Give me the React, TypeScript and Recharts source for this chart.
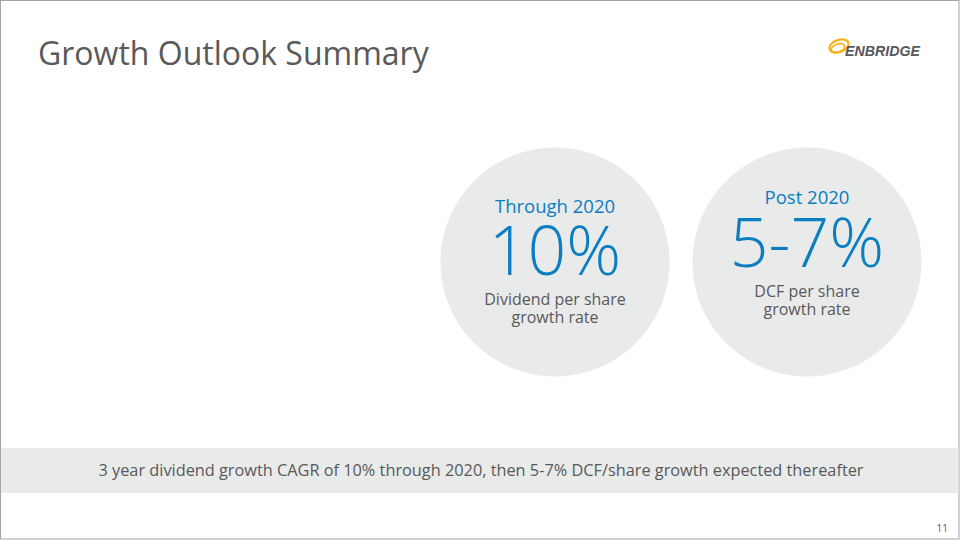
import React from 'react';
import { PieChart, Pie, Cell, Customized } from 'recharts';

const slideTitle = 'Growth Outlook Summary';
const circleTitles = ['Through 2020', 'Post 2020'];
const circleValues = ['10%', '5-7%'];
const circleDescriptions = [
  ['Dividend per share', 'growth rate'],
  ['DCF per share', 'growth rate'],
];
const circleWeights = [1, 1];
const footerText = '3 year dividend growth CAGR of 10% through 2020, then 5-7% DCF/share growth expected thereafter';
const pageNumber = '11';
const logoText = 'ENBRIDGE';

const W = 960;
const H = 540;
const BLUE = '#0b7dc1';
const GREY_TEXT = '#595959';
const CIRCLE_FILL = '#e9eaea';
const FONT = '"Open Sans", "Noto Sans", sans-serif';

const circleLayout = [
  { cx: 555, cy: 262, titleY: 213, valueY: 275, descY: [305, 323] },
  { cx: 807, cy: 262, titleY: 204, valueY: 267, descY: [297, 315] },
];

const Overlay = () => (
  <g>
    {/* slide border */}
    <rect x={0.5} y={0.5} width={958.5} height={538.5} fill="none" stroke="#a3a3a3" strokeWidth={1} />
    {/* title */}
    <text x={38} y={65} fontFamily={FONT} fontSize={32} fill={GREY_TEXT}>
      {slideTitle}
    </text>
    {/* logo */}
    <g>
      <ellipse cx={839} cy={46} rx={10} ry={6} fill="none" stroke="#f5b21f" strokeWidth={2.2} transform="rotate(-20 839 46)" />
      <ellipse cx={838} cy={48} rx={7} ry={4} fill="none" stroke="#f5b21f" strokeWidth={1.8} transform="rotate(-20 838 48)" />
      <text x={845} y={56} fontFamily='"Liberation Sans", Arial, sans-serif' fontWeight={700} fontStyle="italic" fontSize={14.5} fill="#58595b" textLength={75} lengthAdjust="spacingAndGlyphs">
        {logoText}
      </text>
    </g>
    {/* footer band */}
    <rect x={1} y={448} width={957.5} height={45} fill={CIRCLE_FILL} />
    <text x={481} y={476} textAnchor="middle" fontFamily={FONT} fontSize={16} fill={GREY_TEXT} textLength={765} lengthAdjust="spacingAndGlyphs">
      {footerText}
    </text>
    <text x={948} y={532} textAnchor="end" fontFamily={FONT} fontSize={10} fill={GREY_TEXT}>
      {pageNumber}
    </text>
  </g>
);

const CircleTexts = () => (
  <svg width={W} height={H} style={{ position: 'absolute', left: 0, top: 0, pointerEvents: 'none' }}>
    {circleLayout.map((c, i) => (
      <g key={i}>
        <text x={c.cx} y={c.titleY} textAnchor="middle" fontFamily={FONT} fontSize={18.5} fill={BLUE}>
          {circleTitles[i]}
        </text>
        <text x={c.cx} y={c.valueY} textAnchor="middle" fontFamily={FONT} fontWeight={300} fontSize={68} fill={BLUE}>
          {circleValues[i]}
        </text>
        {circleDescriptions[i].map((d, j) => (
          <text key={j} x={c.cx} y={c.descY[j]} textAnchor="middle" fontFamily={FONT} fontSize={16} fill={GREY_TEXT}>
            {d}
          </text>
        ))}
      </g>
    ))}
  </svg>
);

export default function App() {
  return (
    <div style={{ position: 'absolute', left: 0, top: 0, width: W, height: H, background: '#ffffff' }}>
      <PieChart width={W} height={H} margin={{ top: 0, right: 0, bottom: 0, left: 0 }}>
        {circleLayout.map((c, i) => (
          <Pie
            key={i}
            data={[{ name: circleTitles[i], value: circleWeights[i] }]}
            dataKey="value"
            nameKey="name"
            cx={c.cx}
            cy={c.cy}
            innerRadius={0}
            outerRadius={114.5}
            startAngle={90}
            endAngle={-270}
            stroke="none"
            isAnimationActive={false}
          >
            <Cell fill={CIRCLE_FILL} />
          </Pie>
        ))}
        <Customized component={Overlay} />
      </PieChart>
      <CircleTexts />
    </div>
  );
}
